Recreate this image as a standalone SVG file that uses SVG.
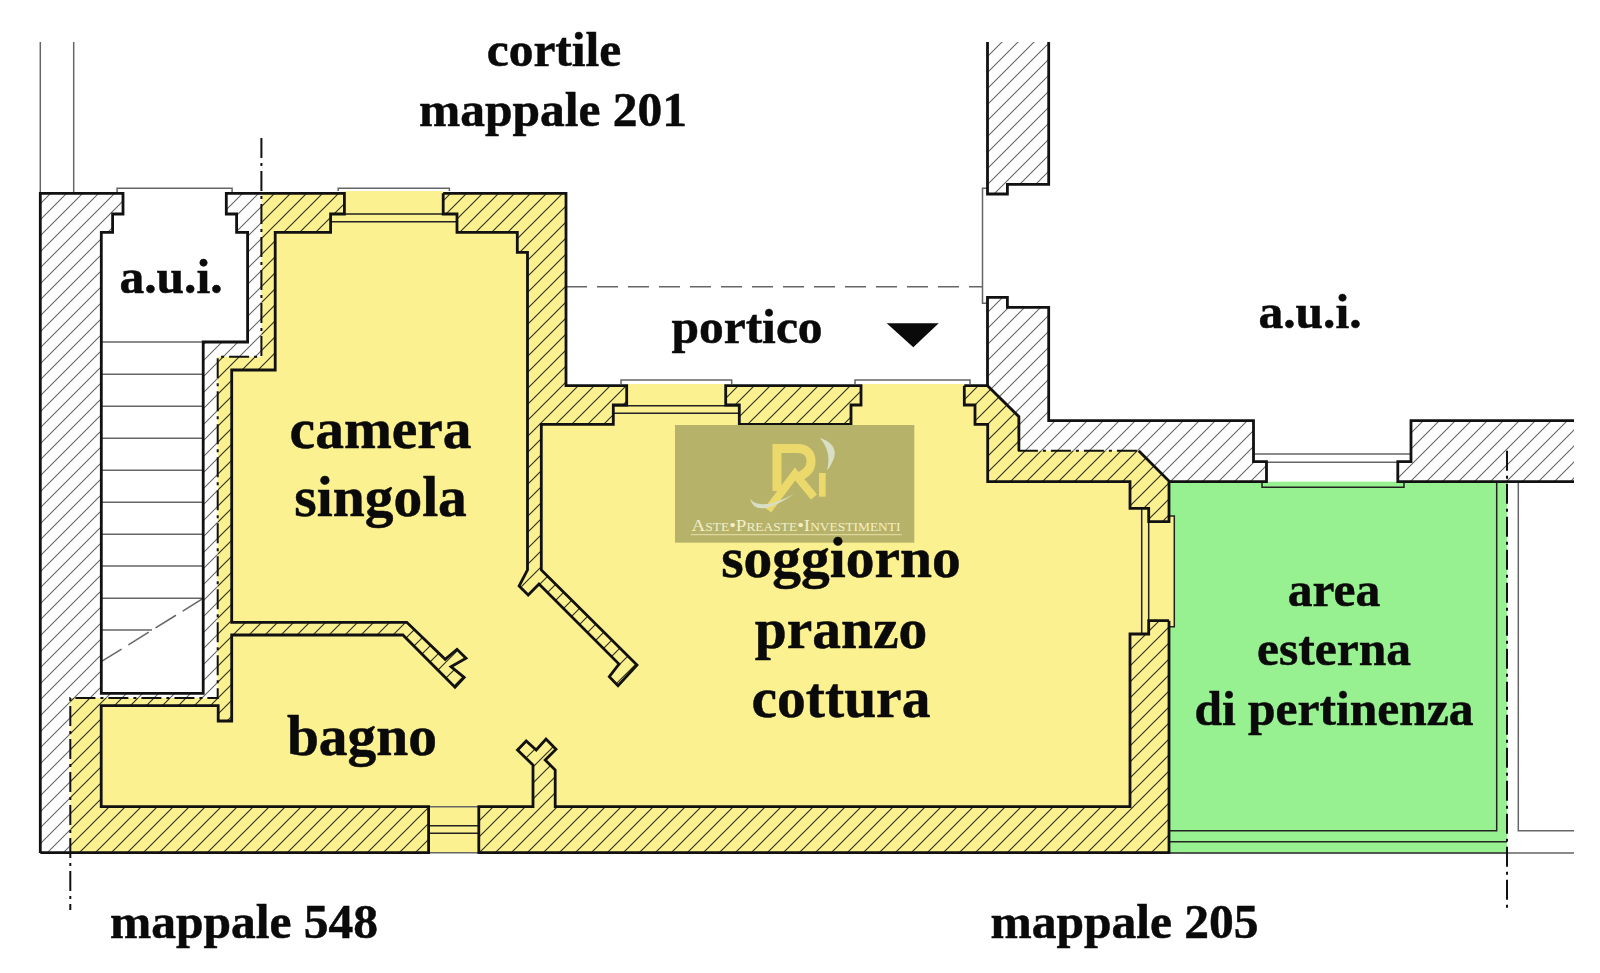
<svg xmlns="http://www.w3.org/2000/svg" width="1600" height="973" viewBox="0 0 1600 973">
<style>
.t{font-family:"Liberation Serif","Times New Roman",serif;font-weight:bold;fill:#0a0a0a;stroke:#0a0a0a;stroke-width:.5;text-anchor:middle}
.b{font-size:57.5px}.m{font-size:49.5px}
.w{fill:none;stroke:#111;stroke-width:2.8;stroke-linejoin:miter}
.g{fill:none;stroke:#666;stroke-width:1.5}
.d{fill:none;stroke:#222;stroke-width:1.5}
.dd{fill:none;stroke:#111;stroke-width:2;stroke-dasharray:20 5 3 5}
.y{fill:#fcf190}
.gold{fill:none;stroke:#ecd96c}
.sw{fill:#d9dfc6}
</style>
<defs>
<pattern id="hg" width="16" height="16" patternUnits="userSpaceOnUse" patternTransform="translate(3 1)"><path d="M-4,20 L20,-4 M-12,12 L12,-12 M4,28 L28,4" stroke="#666" stroke-width="1.1" fill="none"/></pattern>
<pattern id="hy" width="16" height="16" patternUnits="userSpaceOnUse" patternTransform="translate(3 1)"><path d="M-4,20 L20,-4 M-12,12 L12,-12 M4,28 L28,4" stroke="#33331a" stroke-width="1.2" fill="none"/></pattern>
</defs>
<rect width="1600" height="973" fill="#fff"/>
<g id="aree">
<path id="pavimento-giallo" class="y" d="M261.4,193.3 H566 V385.7 H987.5 L1018.9,416.7 V450.7 H1138.7 L1168,480.7 V852.7 H70.3 V698 H217.7 V356.7 H261.4 Z"/>
<path id="muri-gialli" fill="url(#hy)" d="M261.4,193.3 H566 V385.7 H987.5 L1018.9,416.7 V450.7 H1138.7 L1168,480.7 V852.7 H70.3 V698 H217.7 V356.7 H261.4 Z"/>
<path id="muri-grigi-sx" fill="url(#hg)" d="M40,193.3 H123 V214 H112.6 V232.3 H101.3 V693.3 H203.2 V342 H247.6 V232.3 H236.6 V214 H226.3 V193.3 H261.4 V356.7 H217.7 V698 H70.3 V852.7 H40 Z"/>
<path id="muro-grigio-alto" fill="url(#hg)" d="M987.5,42 H1048.7 V184.3 H1007.4 V194 H987.5 Z"/>
<path id="muro-grigio-mid" fill="url(#hg)" d="M987.5,297.3 H1007.4 V307.3 H1048.7 V420.7 H1253.5 V461.7 H1266.5 V481.7 H1168 L1138.7,450.7 H1018.9 V416.7 L987.5,386 Z"/>
<path id="muro-grigio-dx" fill="url(#hg)" d="M1411,420.7 H1574 V481.7 H1397.8 V461.7 H1411 Z"/>
<rect id="area-verde" x="1169" y="481.7" width="338" height="371" fill="#98f191"/>
<path id="interno" class="y" d="M275.2,232.3 H330.6 V214 H344.4 V191 H443.2 V214 H457 V232.3 H517.3 V252.3 H527.5 V570 L519.1,586 L528.2,595 L539,584 L619,664 L609.3,676.7 L618,685.7 L637,665 L541.3,570 V424.3 H613.3 V405 H626.7 V384 H725.7 V405 H739.3 V424.3 H851 V405 H861 V384 H964.3 V405 H975 V424.3 H987.7 V481.7 H1130 V508.3 H1148.7 V521.7 H1169 V620.7 H1148.7 V634 H1130 V806.7 H555.2 V770 L545.2,760 L556,749.3 L546,739 L536.2,750 L526.2,741 L517.5,750 L533,765 V806.7 H478.8 V852.7 H428.6 V806.7 H101.2 V705.7 H218.2 V721 H231.7 V635 H402.9 L455,687.3 L464.2,677.3 L451,666.7 L466,658.3 L457,649.3 L445.2,659.3 L406.8,622.3 H231.7 V370 H275.2 Z"/>
<rect class="y" x="1169" y="516" width="5.3" height="110.7"/>
</g>
<g id="scale-e-linee-sottili">
<path class="g" d="M40.3,42 V193 M73.7,42 V193"/>
<path class="g" d="M101.3,342 H203.2 M101.3,374.3 H203.2 M101.3,406.3 H203.2 M101.3,438.3 H203.2 M101.3,470.3 H203.2 M101.3,502.3 H203.2 M101.3,534.3 H203.2 M101.3,566 H203.2 M101.3,598.3 H203.2 M101.3,630 H152"/>
<path class="g" stroke-dasharray="24 8" d="M101.2,661.7 L203.2,598.3"/>
<path class="g" stroke-dasharray="21 10" d="M566,286.7 H982.5"/>
<path class="g" d="M117.1,193 V188.3 H232.1 V193 M338.2,191 V188.3 H449.4 V191 M621,384 V380 H731.7 V384 M855,384 V380 H970 V384"/>
<path class="g" d="M987.5,188.3 H982.5 V303.3 H987.5"/>
<path class="d" d="M330.6,214 H457 M330.6,221.7 H457 M613.3,405.7 H739.3 M613.3,413.3 H739.3 M1141.7,508.3 V634 M1148.7,508.3 V634 M428.6,825.7 H478.8 M428.6,833.3 H478.8"/>
<path class="g" d="M428.6,806.7 H478.8 M428.6,852.7 H478.8"/>
<path class="g" d="M1253.5,454 H1411 M1253.5,462.3 H1411"/>
<path class="d" d="M1262,481.7 V487.3 H1404 V481.7"/>
<path class="d" d="M1169,516 H1174.3 V626.7 H1169"/>
<path class="d" d="M1169,830.7 H1496.7 V481.7 M1169,841.7 H1507 M1169,853 H1507"/>
<path class="g" d="M1518.3,481.7 V830.7 H1574 M1507,853 H1574"/>
</g>
<g id="muri">
<path class="w" d="M40.3,853 V193.3 H123 V214 H112.6 V232.3 H101.3 V693.3 H203.2 V342 H247.6 V232.3 H236.6 V214 H226.3 V193.3 H344.4 V214 H330.6 V232.3 H275.2 V370 H231.7 V622.3 H406.8 L445.2,659.3 L457,649.3 L466,658.3 L451,666.7 L464.2,677.3 L455,687.3 L402.9,635 H231.7 V721 H218.2 V705.7 H101.2 V806.7 H428.6 V852.7 H40.3"/>
<path class="w" d="M443.2,193.3 V214 H457 V232.3 H517.3 V252.3 H527.5 V570 L519.1,586 L528.2,595 L539,584 L619,664 L609.3,676.7 L618,685.7 L637,665 L541.3,570 V424.3 H613.3 V405 H626.7 V385.7 H566 V193.3 H443.2"/>
<path class="w" d="M725.7,385.7 H861 V405 H851 V424.3 H739.3 V405 H725.7 Z"/>
<path class="w" d="M987.5,42 V194 H1007.4 V184.3 H1048.7 V42"/>
<path class="w" d="M964.3,385.7 V405 H975 V424.3 H987.7 V481.7 H1130 V508.3 H1148.7 V521.7 H1169 V481 L1138.7,450.7 M964.3,385.7 H987.5 L1018.9,416.7 V450.7"/>
<path class="w" d="M987.5,386 V297.3 H1007.4 V307.3 H1048.7 V420.7 H1253.5 V461.7 H1266.5 V481.7 H1169"/>
<path class="w" d="M1574,420.7 H1411 V461.7 H1397.8 V481.7 H1574"/>
<path class="w" d="M1169,620.7 H1148.7 V634 H1130 V806.7 H555.2 V770 L545.2,760 L556,749.3 L546,739 L536.2,750 L526.2,741 L517.5,750 L533,765 V806.7 H478.8 V852.7 H1169 V620.7"/>
</g>
<g id="confini">
<path class="dd" d="M261.4,138 V356.7 H217.7 V698 H70.3 V910"/>
<path class="dd" d="M1018.9,416.7 V450.7 H1138.7"/>
<path class="dd" d="M1507,450.7 V910"/>
</g>
<path id="freccia" fill="#0a0a0a" d="M886.7,323.3 H938.7 L913.3,347.3 Z"/>
<g id="logo">
<rect x="675" y="425" width="239.3" height="117.7" fill="#b7b26a"/>
<path class="gold" stroke-width="9" d="M777,491 V448.5 H797 Q811,448.5 811,461.5 Q811,472 798,477"/>
<path class="gold" stroke-width="8" stroke="#f0e07e" d="M768,510 L795,474 L814,497"/>
<rect x="819" y="473" width="6.7" height="23.7" fill="#ecd96c"/>
<path class="sw" d="M820,438 Q838,444 834,458 Q830,468 827,470 Q832,452 820,438 Z M750,498 Q752,510 766,508 Q780,504 794,494 Q772,506 760,504 Q752,503 750,498 Z"/>
<text x="796" y="530.5" text-anchor="middle" font-family="Liberation Serif,serif" font-size="17" font-variant="small-caps" fill="#f3efc8" textLength="209" lengthAdjust="spacingAndGlyphs">Aste•Preaste•Investimenti</text>
<path d="M690.7,534.7 H901.7" stroke="#e5e0a8" stroke-width="1"/>
</g>
<g id="testi">
<text class="t m" x="554" y="66">cortile</text>
<text class="t m" x="553" y="125.5">mappale 201</text>
<text class="t m" x="171" y="293">a.u.i.</text>
<text class="t b" x="380.6" y="448">camera</text>
<text class="t b" x="380.6" y="516">singola</text>
<text class="t b" x="841" y="577">soggiorno</text>
<text class="t b" x="841" y="648">pranzo</text>
<text class="t b" x="841" y="717">cottura</text>
<text class="t b" x="362" y="755">bagno</text>
<text class="t m" x="747" y="342.7">portico</text>
<text class="t m" x="1310" y="327.7">a.u.i.</text>
<text class="t m" x="1334" y="606">area</text>
<text class="t m" x="1334" y="665.3">esterna</text>
<text class="t m" x="1334" y="725.3">di pertinenza</text>
<text class="t m" x="244" y="938">mappale 548</text>
<text class="t m" x="1124.5" y="938">mappale 205</text>
</g>
</svg>
